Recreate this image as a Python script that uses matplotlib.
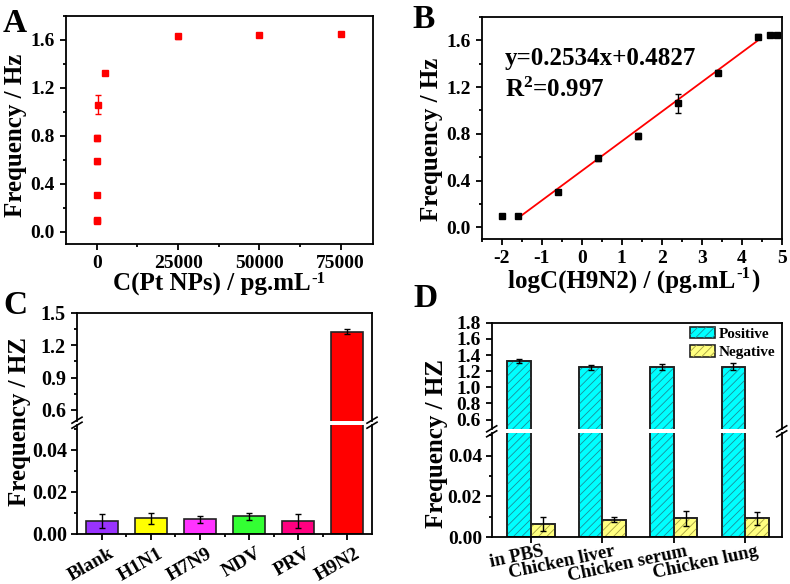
import numpy as np
import matplotlib
matplotlib.use("Agg")
import matplotlib.pyplot as plt
from matplotlib.lines import Line2D
from matplotlib.patches import Patch
from matplotlib.ticker import MultipleLocator, FixedLocator
from matplotlib.transforms import ScaledTranslation

plt.rcParams['font.family'] = ['Liberation Serif', 'DejaVu Serif']
plt.rcParams['font.weight'] = 'bold'
plt.rcParams['axes.unicode_minus'] = False
plt.rcParams['mathtext.fontset'] = 'custom'
plt.rcParams['mathtext.rm'] = 'Liberation Serif:bold'
plt.rcParams['mathtext.bf'] = 'Liberation Serif:bold'
plt.rcParams['mathtext.default'] = 'rm'
plt.rcParams['hatch.linewidth'] = 0.6

# ---- data ----
# A / B: calibration (Pt NPs concentration vs frequency shift)
conc = [0.01, 0.025, 0.25, 2.5, 25, 250, 2500, 25000, 50000, 75000]
freq = [0.094, 0.10, 0.306, 0.59, 0.78, 1.06, 1.325, 1.632, 1.643, 1.648]
freq_err = [0.012, 0.012, 0.012, 0.02, 0.025, 0.08, 0.02, 0.02, 0.018, 0.018]
fit_slope, fit_icpt = 0.2534, 0.4827

# C: specificity
viruses = ['Blank', 'H1N1', 'H7N9', 'NDV', 'PRV', 'H9N2']
spec_val = [0.0062, 0.0073, 0.0068, 0.0083, 0.0062, 1.325]
spec_err = [0.0034, 0.0026, 0.0017, 0.0018, 0.0033, 0.022]
spec_col = ['#9933FF', '#FFFF00', '#FF33FF', '#33FF33', '#FF0080', '#FF0000']

# D: real samples
samples = ['in PBS', 'Chicken liver', 'Chicken serum', 'Chicken lung']
pos_val = [1.323, 1.249, 1.255, 1.255]
pos_err = [0.025, 0.03, 0.035, 0.045]
neg_val = [0.0063, 0.0086, 0.0093, 0.0091]
neg_err = [0.0034, 0.0013, 0.0037, 0.0031]

W, H = 790, 584
fig = plt.figure(figsize=(W / 100, H / 100), dpi=100)


def box(l, t, r, b):
    return [l / W, 1 - b / H, (r - l) / W, (b - t) / H]


def style(ax, size=14):
    for s in ax.spines.values():
        s.set_linewidth(1.3)
    ax.tick_params(which='both', direction='out', width=1.3, labelsize=size)
    ax.tick_params(which='major', length=4.5)
    ax.tick_params(which='minor', length=2.5)


def break_marks(x, y):
    # little "//" on a broken axis (pixel coords)
    for d in (-2.5, 2.5):
        fig.add_artist(Line2D([(x - 5) / W, (x + 5) / W],
                              [1 - (y + 3 + d) / H, 1 - (y - 3 + d) / H],
                              transform=fig.transFigure, color='black', lw=1.2))


def shift_labels(ax, dx_px):
    off = ScaledTranslation(dx_px / 100, 0, fig.dpi_scale_trans)
    for lab in ax.get_xticklabels():
        lab.set_transform(lab.get_transform() + off)


def sup_label(x, y, main, sup, sup_y, tail=''):
    # "main" + small superscript "sup" (+ tail) at pixel position x (left), baseline y
    t = fig.text(x / W, 1 - y / H, main, ha='left', va='baseline', fontsize=18)
    fig.canvas.draw()
    bb = t.get_window_extent(fig.canvas.get_renderer())
    s = fig.text((bb.x1 + 1) / W, 1 - sup_y / H, sup, ha='left', va='center', fontsize=12)
    if tail:
        fig.canvas.draw()
        sb = s.get_window_extent(fig.canvas.get_renderer())
        fig.text((sb.x1 + 1) / W, 1 - y / H, tail, ha='left', va='baseline', fontsize=18)


# ---- A ----
axA = fig.add_axes(box(66, 16, 373, 244))
axA.errorbar(conc, freq, yerr=freq_err, fmt='s', color='red', ms=4.2,
             capsize=2.5, elinewidth=1, capthick=1)
axA.set_xlim(-9500, 85000)
axA.set_ylim(-0.1, 1.8)
axA.xaxis.set_major_locator(FixedLocator([0, 25000, 50000, 75000]))
axA.xaxis.set_minor_locator(FixedLocator([12500, 37500, 62500]))
axA.yaxis.set_major_locator(MultipleLocator(0.4))
axA.yaxis.set_minor_locator(MultipleLocator(0.2))
style(axA)
fig.text(16 / W, 1 - 135 / H, 'Frequency / Hz', rotation=90, ha='center', va='center', fontsize=18)

# ---- B ----
logc = np.log10(conc)
axB = fig.add_axes(box(481.7, 17, 781.7, 239))
axB.errorbar(logc, freq, yerr=freq_err, fmt='s', color='black', ms=4.2,
             capsize=2.5, elinewidth=1, capthick=1, zorder=3)
fit_x = np.array([logc[1], logc[7]])
axB.plot(fit_x, fit_slope * fit_x + fit_icpt, color='red', lw=1.3, zorder=2)
axB.set_xlim(-2.5, 5)
axB.set_ylim(-0.1, 1.8)
axB.xaxis.set_major_locator(MultipleLocator(1))
axB.xaxis.set_minor_locator(MultipleLocator(0.5))
axB.yaxis.set_major_locator(MultipleLocator(0.4))
axB.yaxis.set_minor_locator(MultipleLocator(0.2))
style(axB)
axB.text(0.078, 0.815, f'y={fit_slope}x+{fit_icpt}', transform=axB.transAxes,
         ha='left', va='center', fontsize=18)
axB.text(0.078, 0.67, r'R$^2$=0.997', transform=axB.transAxes,
         ha='left', va='center', fontsize=18)
fig.text(431.5 / W, 1 - 139 / H, 'Frequency / Hz', rotation=90, ha='center', va='center', fontsize=18)

# ---- C (broken y axis) ----
xc = np.arange(len(viruses))
axC1 = fig.add_axes(box(77, 312.7, 372, 420.7))
axC2 = fig.add_axes(box(77, 424.7, 372, 533.7))
for ax in (axC1, axC2):
    ax.bar(xc, spec_val, width=0.65, color=spec_col, edgecolor='#222222', lw=1.2, zorder=2)
    ax.errorbar(xc, spec_val, yerr=spec_err, fmt='none', ecolor='black',
                capsize=2.5, elinewidth=1, capthick=1, zorder=3)
    ax.set_xlim(-0.5, len(viruses) - 0.5)
    style(ax, 14.5)
axC1.set_ylim(0.5, 1.5)
axC1.yaxis.set_major_locator(FixedLocator([0.6, 0.9, 1.2, 1.5]))
axC1.yaxis.set_minor_locator(FixedLocator([0.75, 1.05, 1.35]))
axC1.spines['bottom'].set_visible(False)
axC1.tick_params(axis='x', which='both', bottom=False, labelbottom=False)
axC2.set_ylim(0, 0.052)
axC2.yaxis.set_major_locator(FixedLocator([0, 0.02, 0.04]))
axC2.yaxis.set_minor_locator(FixedLocator([0.01, 0.03, 0.05]))
axC2.yaxis.set_major_formatter(lambda v, p: f'{v:.2f}')
axC2.tick_params(axis='y', pad=2.5)
axC2.spines['top'].set_visible(False)
axC2.set_xticks(xc)
axC2.set_xticklabels(viruses, rotation=30, ha='right', va='top', rotation_mode='anchor', fontsize=14)
axC2.xaxis.set_minor_locator(FixedLocator(xc[:-1] + 0.5))
shift_labels(axC2, 7)
break_marks(77, 422.7)
break_marks(372, 422.7)
fig.text(20 / W, 1 - 422 / H, 'Frequency / HZ', rotation=90, ha='center', va='center', fontsize=18)

# ---- D (broken y axis, grouped hatched bars) ----
xd = np.arange(len(samples))
bw = 0.33
axD1 = fig.add_axes(box(491.7, 322.7, 781.7, 429.3))
axD2 = fig.add_axes(box(491.7, 433.3, 781.7, 537))
for ax in (axD1, axD2):
    for off, vals, errs, fc, hc in ((-bw / 2, pos_val, pos_err, '#00FFFF', '#1a8f9a'),
                                    (bw / 2, neg_val, neg_err, '#FFFF80', '#a6a040')):
        ax.bar(xd + off, vals, width=bw, color=fc, edgecolor='#222222', lw=1.2, zorder=2)
        ax.bar(xd + off, vals, width=bw, color='none', edgecolor=hc, hatch='////', lw=0, zorder=2)
        ax.bar(xd + off, vals, width=bw, color='none', edgecolor='#222222', lw=1.2, zorder=2)
        ax.errorbar(xd + off, vals, yerr=errs, fmt='none', ecolor='black',
                    capsize=2.5, elinewidth=1, capthick=1, zorder=3)
    ax.set_xlim(-0.55, len(samples) - 0.49)
    style(ax, 14)
axD1.set_ylim(0.48, 1.8)
axD1.yaxis.set_major_locator(MultipleLocator(0.2))
axD1.spines['bottom'].set_visible(False)
axD1.tick_params(axis='x', which='both', bottom=False, labelbottom=False)
axD2.set_ylim(0, 0.051)
axD2.yaxis.set_major_locator(FixedLocator([0, 0.02, 0.04]))
axD2.yaxis.set_minor_locator(FixedLocator([0.01, 0.03, 0.05]))
axD2.yaxis.set_major_formatter(lambda v, p: f'{v:.2f}')
axD2.tick_params(axis='y', pad=2.5)
axD2.spines['top'].set_visible(False)
axD2.set_xticks(xd)
axD2.set_xticklabels(samples, rotation=12, ha='right', va='top', rotation_mode='anchor', fontsize=13.5)
axD2.tick_params(axis='x', pad=0)
shift_labels(axD2, 11)
break_marks(491.7, 431.3)
break_marks(781.7, 431.3)
handles = [(Patch(fc='#00FFFF', ec='#222222', lw=1.2), Patch(fc='none', ec='#1a8f9a', hatch='////', lw=0)),
           (Patch(fc='#FFFF80', ec='#222222', lw=1.2), Patch(fc='none', ec='#a6a040', hatch='////', lw=0))]
axD1.legend(handles, ['Positive', 'Negative'], loc='upper right', bbox_to_anchor=(0.99, 0.99),
            frameon=False, prop={'size': 11, 'weight': 'bold'}, handlelength=1.65,
            handleheight=0.75, handletextpad=0.25, labelspacing=0.3,
            borderaxespad=0, borderpad=0.2)
fig.text(437 / W, 1 - 443 / H, 'Frequency / HZ', rotation=90, ha='center', va='center', fontsize=18)

# x labels with superscripts (need a draw to measure the main text)
sup_label(113, 291, 'C(Pt NPs) / pg.mL', '-1', 279)
sup_label(508, 288, 'logC(H9N2) / (pg.mL', '-1', 273.5, ')')

# panel letters
for lab, x, y in (('A', 3, 32), ('B', 412, 28), ('C', 3, 314), ('D', 413, 307)):
    fig.text(x / W, 1 - y / H, lab, fontsize=24, ha='left', va='baseline')

fig.savefig('out.png', dpi=100)
